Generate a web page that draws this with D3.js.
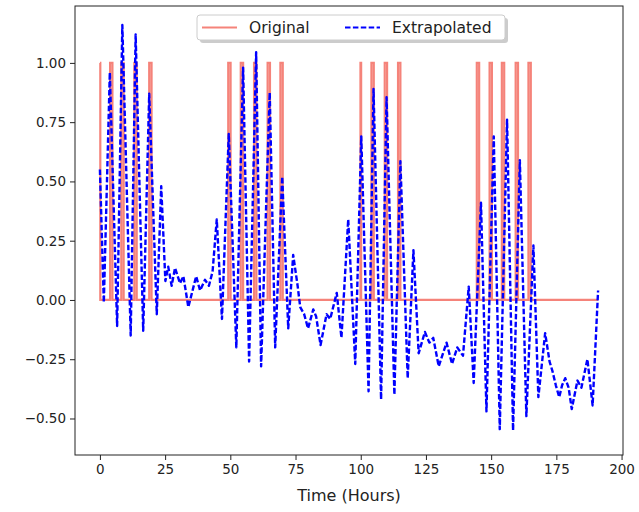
<!DOCTYPE html>
<html>
<head>
<meta charset="utf-8">
<script src="https://cdn.jsdelivr.net/npm/d3@7"></script>
<style>
  body { margin: 0; background: #fff; }
  text { font-family: "DejaVu Sans", sans-serif; }
</style>
</head>
<body>
<svg id="chart" width="639" height="512"></svg>
<script>
// pulses of the original signal (hours where it is 1)
const pulseStarts = [0, 3.9, 8.2, 13.2, 18.9, 49.2, 54.0, 59.1, 64.3, 69.2, 99.9, 104.1, 109.2, 114.3, 144.5, 149.4, 154.1, 159.4, 164.3];
const pulseEnds   = [0.15, 4.8, 9.1, 14.1, 19.8, 50.1, 54.9, 60.0, 65.2, 70.1, 100.15, 105.0, 110.1, 115.2, 145.4, 150.3, 155.0, 160.3, 165.2];
const lastHour = 191;

// turning points of the extrapolated curve
const extrapHours = [0, 1.5, 3.8, 6.6, 8.6, 11.8, 13.7, 16.6, 18.9, 21.8, 23.5, 25.1, 26.2, 27.5, 28.8, 30.7, 32.0, 33.9, 35.3, 36.9,
  38.4, 40.3, 41.8, 43.2, 44.8, 46.8, 49.4, 52.3, 54.9, 57.2, 59.9, 61.8, 65.1, 67.2, 69.9, 72.2, 74.1, 75.8, 76.8, 78.3,
  79.8, 81.8, 82.9, 84.6, 86.9, 88.3, 90.8, 92.6, 95.2, 97.9, 100.2, 103.0, 104.9, 107.8, 109.9, 112.9, 115.2, 118.0, 120.2, 122.2,
  124.6, 126.3, 127.8, 129.9, 132.9, 135.0, 137.0, 139.2, 141.4, 143.3, 146.1, 148.2, 151.0, 153.3, 156.1, 158.4, 161.0, 163.5, 166.2, 168.1,
  170.7, 172.4, 173.5, 174.8, 176.1, 177.2, 178.4, 179.7, 180.9, 183.1, 184.6, 186.9, 188.9, 191.0];
const extrapValues = [0.55, -0.01, 0.96, -0.11, 1.16, -0.15, 1.12, -0.13, 0.87, -0.06, 0.48, 0.08, 0.14, 0.06, 0.135, 0.07, 0.10, -0.03, 0.03, 0.10,
  0.04, 0.085, 0.06, 0.12, 0.34, -0.08, 0.70, -0.20, 0.98, -0.26, 1.045, -0.28, 0.875, -0.20, 0.52, -0.12, 0.19, 0.06, -0.03, -0.06,
  -0.12, -0.04, -0.07, -0.19, -0.06, -0.08, 0.03, -0.16, 0.34, -0.27, 0.69, -0.385, 0.89, -0.42, 0.855, -0.40, 0.585, -0.33, 0.21, -0.225,
  -0.135, -0.18, -0.16, -0.28, -0.18, -0.27, -0.20, -0.235, 0.056, -0.35, 0.41, -0.47, 0.69, -0.545, 0.76, -0.55, 0.59, -0.49, 0.23, -0.41,
  -0.14, -0.26, -0.30, -0.36, -0.41, -0.36, -0.33, -0.37, -0.46, -0.34, -0.37, -0.25, -0.445, 0.04];

const xTicks = [0, 25, 50, 75, 100, 125, 150, 175, 200];
const yTicks = [-0.5, -0.25, 0, 0.25, 0.5, 0.75, 1.0];
const seriesNames = ["Original", "Extrapolated"];

const svg = d3.select("#chart");
const plot = { left: 75, right: 623, top: 6, bottom: 455 };
const red = "#f5837a", blue = "#0000ff";

const x = d3.scaleLinear().domain([-9.55, 200.55]).range([plot.left, plot.right]);
const y = d3.scaleLinear().domain([-0.654, 1.24]).range([plot.bottom, plot.top]);

const fmtY = v => (v < 0 ? "\u2212" : "") + Math.abs(v).toFixed(2);

// original step signal
const original = [];
pulseStarts.forEach((s, i) => {
  if (s > 0) original.push([s, 0]);
  original.push([s, 1], [pulseEnds[i], 1], [pulseEnds[i], 0]);
});
original.push([lastHour, 0]);

const extrap = extrapHours.map((h, i) => [h, extrapValues[i]]);

const line = d3.line().x(d => x(d[0])).y(d => y(d[1]));

svg.append("path")
  .attr("d", line(original))
  .attr("fill", "none")
  .attr("stroke", red)
  .attr("stroke-width", 2.2);

svg.append("path")
  .attr("d", line(extrap))
  .attr("fill", "none")
  .attr("stroke", blue)
  .attr("stroke-width", 2.4)
  .attr("stroke-dasharray", "5.5,2.4")
  .attr("stroke-linejoin", "round");

// axes
const xAxis = svg.append("g")
  .attr("transform", `translate(0,${plot.bottom})`)
  .call(d3.axisBottom(x).tickValues(xTicks).tickSize(5).tickPadding(4).tickFormat(d3.format("d")));
const yAxis = svg.append("g")
  .attr("transform", `translate(${plot.left},0)`)
  .call(d3.axisLeft(y).tickValues(yTicks).tickSize(5).tickPadding(4).tickFormat(fmtY));

[xAxis, yAxis].forEach(g => {
  g.select(".domain").remove();
  g.selectAll("line").attr("stroke", "#222");
  g.selectAll("text").attr("fill", "#222").style("font-size", "13.5px").style("font-family", "DejaVu Sans");
});

svg.append("rect")
  .attr("x", plot.left).attr("y", plot.top)
  .attr("width", plot.right - plot.left).attr("height", plot.bottom - plot.top)
  .attr("fill", "none").attr("stroke", "#222").attr("stroke-width", 1);

svg.append("text")
  .attr("x", 349).attr("y", 501)
  .attr("text-anchor", "middle")
  .attr("fill", "#222")
  .style("font-size", "16px")
  .text("Time (Hours)");

// legend
const lg = svg.append("g").attr("transform", "translate(197,15)");
lg.append("rect").attr("x", 3).attr("y", 3).attr("width", 308).attr("height", 25).attr("rx", 3)
  .attr("fill", "#999").attr("opacity", 0.5);
lg.append("rect").attr("width", 308).attr("height", 25).attr("rx", 3)
  .attr("fill", "#fff").attr("stroke", "#ccc");

const items = lg.selectAll("g.item").data(seriesNames).enter().append("g")
  .attr("transform", (d, i) => `translate(${i === 0 ? 5 : 148},12.5)`);
items.append("line")
  .attr("x1", 0).attr("x2", 35).attr("y1", 0).attr("y2", 0)
  .attr("stroke", (d, i) => i === 0 ? red : blue)
  .attr("stroke-width", 2.2)
  .attr("stroke-dasharray", (d, i) => i === 0 ? null : "5.5,2.4");
items.append("text")
  .attr("x", 47).attr("dy", "0.35em")
  .attr("fill", "#222")
  .style("font-size", "15.5px")
  .text(d => d);
</script>
</body>
</html>
